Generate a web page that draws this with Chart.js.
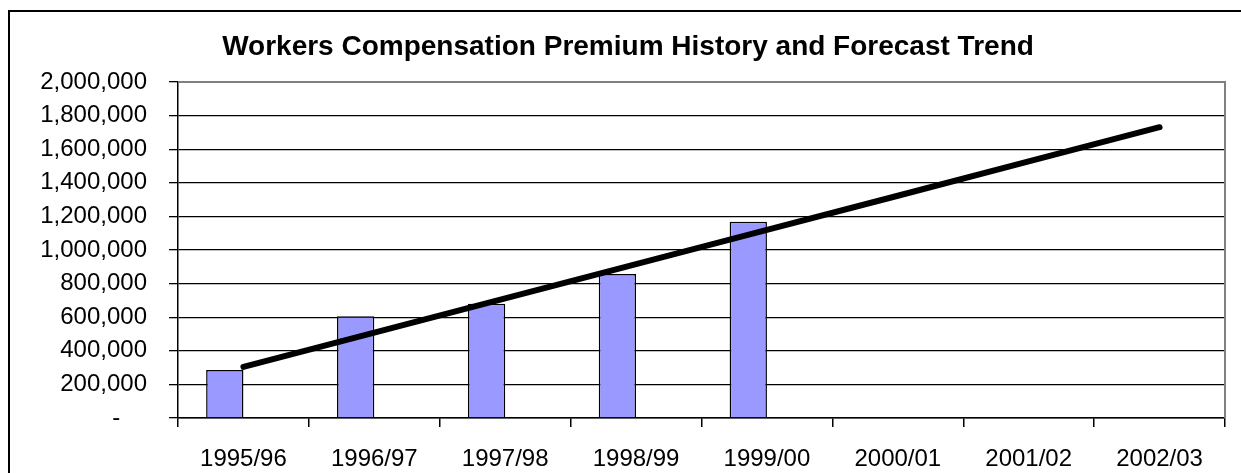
<!DOCTYPE html>
<html>
<head>
<meta charset="utf-8">
<script src="https://cdn.jsdelivr.net/npm/chart.js@4.4.1/dist/chart.umd.min.js"></script>
<style>
  html, body { margin: 0; padding: 0; background: #fff; overflow: hidden; }
  #wrap  { position: relative; width: 1241px; height: 473px; }
  #frame { position: absolute; left: 8px; top: 10px; width: 1300px; height: 600px; border: 2px solid #000; }
  #chart { position: absolute; left: 0; top: 0; }
</style>
</head>
<body>
<div id="wrap">
  <div id="frame"></div>
  <canvas id="chart" width="1241" height="473"></canvas>
</div>
<script>
const chartTitle   = 'Workers Compensation Premium History and Forecast Trend';
const categories   = ['1995/96', '1996/97', '1997/98', '1998/99', '1999/00', '2000/01', '2001/02', '2002/03'];
const premiumValues = [285000, 605000, 680000, 857000, 1168000, null, null, null];
// second (empty) column series -- keeps the history bars left of the category centre like the original
const blankValues  = [null, null, null, null, null, null, null, null];
const trendValues  = [304000, 508000, 712000, 916000, 1120000, 1323000, 1527000, 1731000];
const yTicks       = [0, 200000, 400000, 600000, 800000, 1000000, 1200000, 1400000, 1600000, 1800000, 2000000];

const FONT = "'Liberation Sans', Arial, sans-serif";

// title is centred a bit right of the canvas centre in the original, so draw it here
const titlePlugin = {
  id: 'titlePlugin',
  afterDraw(chart) {
    const { ctx } = chart;
    ctx.save();
    ctx.fillStyle = '#000';
    ctx.font = `bold 28px ${FONT}`;
    ctx.textAlign = 'center';
    ctx.textBaseline = 'middle';
    ctx.fillText(chartTitle, 628, 47);
    ctx.restore();
  }
};

// gray top/right edge of the plot area
const plotEdges = {
  id: 'plotEdges',
  afterDraw(chart) {
    const { ctx, chartArea: a } = chart;
    ctx.save();
    ctx.strokeStyle = '#808080';
    ctx.lineWidth = 2;
    ctx.beginPath();
    ctx.moveTo(a.left, a.top);
    ctx.lineTo(a.right, a.top);
    ctx.lineTo(a.right, a.bottom);
    ctx.stroke();
    ctx.restore();
  }
};

new Chart(document.getElementById('chart').getContext('2d'), {
  data: {
    labels: categories,
    datasets: [
      { type: 'line', label: 'Trend', data: trendValues, borderColor: '#000', borderWidth: 6,
        borderCapStyle: 'round', pointRadius: 0, tension: 0, order: 0 },
      { type: 'bar', label: 'Premium', data: premiumValues, backgroundColor: '#9999FF',
        borderColor: '#000', borderWidth: 1.5, categoryPercentage: 0.57, barPercentage: 1, order: 1 },
      { type: 'bar', label: 'Forecast', data: blankValues, backgroundColor: '#9999FF',
        categoryPercentage: 0.57, barPercentage: 1, order: 2 },
    ],
  },
  options: {
    responsive: false,
    animation: false,
    devicePixelRatio: 1,
    layout: { padding: { left: 0, right: 16, top: 82, bottom: 0 } },
    plugins: {
      legend: { display: false },
      tooltip: { enabled: false },
      title: { display: false },
    },
    scales: {
      x: {
        offset: true,
        grid: { offset: true, drawOnChartArea: false, drawTicks: true, tickLength: 9, color: '#000', lineWidth: 1.5 },
        border: { display: true, color: '#000', width: 1.5 },
        ticks: { color: '#000', font: { family: FONT, size: 24 }, padding: 18, maxRotation: 0 },
        afterFit: s => { s.height = 55; },
      },
      y: {
        min: 0,
        max: 2000000,
        afterBuildTicks: s => { s.ticks = yTicks.map(v => ({ value: v })); },
        grid: {
          color: c => (c.tick && c.tick.value === 2000000 ? '#808080' : '#000'),
          tickColor: '#000',
          lineWidth: 1.3,
          tickLength: 9,
        },
        border: { display: true, color: '#000', width: 1.5 },
        ticks: {
          color: '#000',
          font: { family: FONT, size: 24 },
          padding: 22,
          callback: v => (v === 0 ? '-    ' : v.toLocaleString('en-US')),
        },
        afterFit: s => { s.width = 178; },
      },
    },
  },
  plugins: [plotEdges, titlePlugin],
});
</script>
</body>
</html>
